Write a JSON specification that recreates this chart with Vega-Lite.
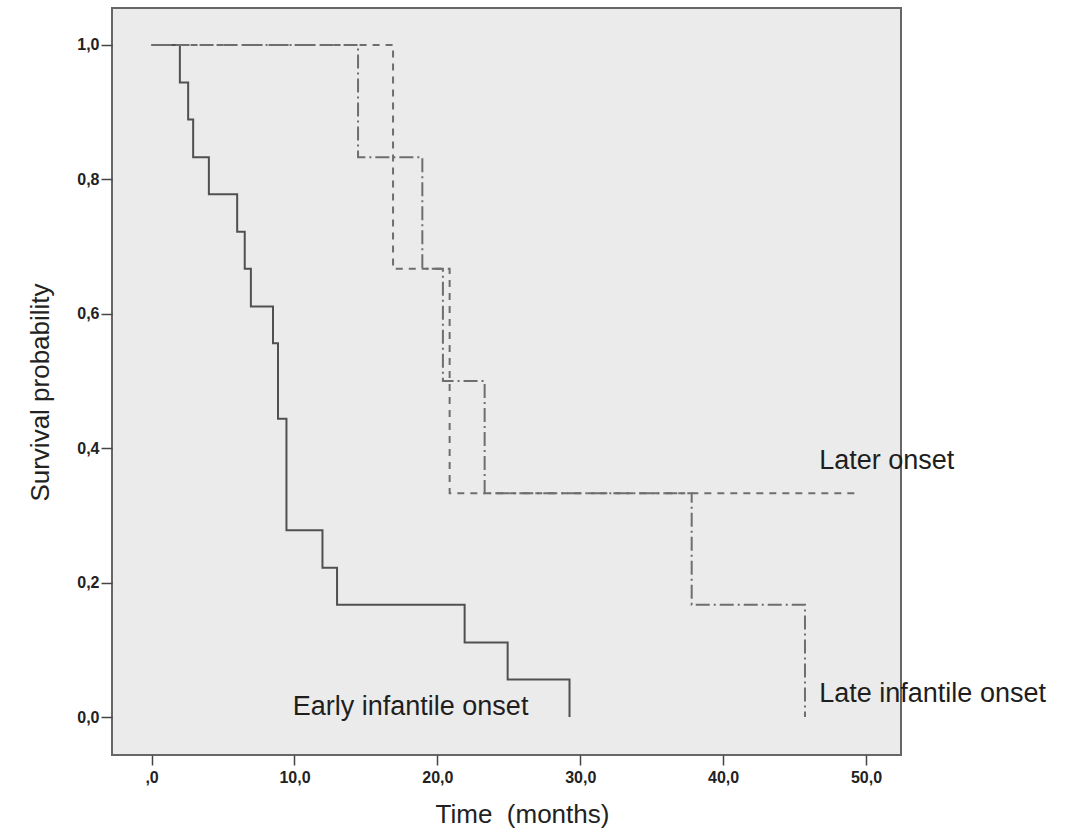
{
  "$schema": "https://vega.github.io/schema/vega-lite/v6.json",
  "autosize": {"type": "none"},
  "width": 789,
  "height": 747,
  "padding": {"left": 112, "top": 8, "right": 170, "bottom": 73},
  "background": "white",
  "config": {
    "view": {"fill": "#ebebeb", "stroke": "#666666", "strokeWidth": 2},
    "font": "Liberation Sans"
  },
  "datasets": {
    "curves": [
      {"group": "Early infantile onset", "t": 0, "s": 1.0},
      {"group": "Early infantile onset", "t": 1.98, "s": 0.944},
      {"group": "Early infantile onset", "t": 2.56, "s": 0.889},
      {"group": "Early infantile onset", "t": 2.91, "s": 0.833},
      {"group": "Early infantile onset", "t": 4.01, "s": 0.778},
      {"group": "Early infantile onset", "t": 5.99, "s": 0.722},
      {"group": "Early infantile onset", "t": 6.52, "s": 0.667},
      {"group": "Early infantile onset", "t": 6.95, "s": 0.611},
      {"group": "Early infantile onset", "t": 8.5, "s": 0.556},
      {"group": "Early infantile onset", "t": 8.85, "s": 0.444},
      {"group": "Early infantile onset", "t": 9.44, "s": 0.278},
      {"group": "Early infantile onset", "t": 11.96, "s": 0.222},
      {"group": "Early infantile onset", "t": 12.98, "s": 0.167},
      {"group": "Early infantile onset", "t": 21.91, "s": 0.111},
      {"group": "Early infantile onset", "t": 24.92, "s": 0.056},
      {"group": "Early infantile onset", "t": 29.25, "s": 0.0},
      {"group": "Later onset", "t": 0, "s": 1.0},
      {"group": "Later onset", "t": 16.9, "s": 0.667},
      {"group": "Later onset", "t": 20.86, "s": 0.333},
      {"group": "Later onset", "t": 49.53, "s": 0.333},
      {"group": "Late infantile onset", "t": 0, "s": 1.0},
      {"group": "Late infantile onset", "t": 14.45, "s": 0.833},
      {"group": "Late infantile onset", "t": 18.95, "s": 0.667},
      {"group": "Late infantile onset", "t": 20.39, "s": 0.5},
      {"group": "Late infantile onset", "t": 23.31, "s": 0.333},
      {"group": "Late infantile onset", "t": 37.8, "s": 0.167},
      {"group": "Late infantile onset", "t": 45.73, "s": 0.0}
    ],
    "labels": [
      {"label": "Later onset", "t": 46.73, "s": 0.369},
      {"label": "Late infantile onset", "t": 46.73, "s": 0.023},
      {"label": "Early infantile onset", "t": 9.88, "s": 0.003}
    ]
  },
  "layer": [
    {
      "data": {"name": "curves"},
      "mark": {"type": "line", "interpolate": "step-after", "strokeWidth": 2},
      "encoding": {
        "x": {
          "field": "t", "type": "quantitative",
          "scale": {"domain": [-2.77, 52.45], "nice": false, "zero": false},
          "axis": {
            "values": [0, 10, 20, 30, 40, 50],
            "labelExpr": "datum.value == 0 ? ',0' : replace(format(datum.value, '.1f'), '.', ',')",
            "domain": false, "grid": false,
            "tickSize": 10, "tickColor": "#444444", "tickWidth": 1.5,
            "labelFontSize": 16, "labelFontWeight": "bold", "labelColor": "#222222", "labelPadding": 4,
            "title": "Time \u00a0(months)", "titleFontSize": 26, "titleFontWeight": "normal", "titleColor": "#222222",
            "titleX": 410, "titleY": 67, "titleAlign": "center", "titleBaseline": "alphabetic"
          }
        },
        "y": {
          "field": "s", "type": "quantitative",
          "scale": {"domain": [-0.0565, 1.055], "nice": false, "zero": false},
          "axis": {
            "values": [0, 0.2, 0.4, 0.6, 0.8, 1.0],
            "labelExpr": "replace(format(datum.value, '.1f'), '.', ',')",
            "domain": false, "grid": false,
            "tickSize": 11, "tickColor": "#444444", "tickWidth": 1.5,
            "labelFontSize": 16, "labelFontWeight": "bold", "labelColor": "#222222", "labelPadding": 2,
            "title": "Survival probability", "titleFontSize": 26, "titleFontWeight": "normal", "titleColor": "#222222",
            "titleAngle": -90, "titleX": -72, "titleY": 384, "titleAlign": "center", "titleBaseline": "middle"
          }
        },
        "detail": {"field": "group"},
        "color": {
          "field": "group", "type": "nominal",
          "scale": {"domain": ["Early infantile onset", "Later onset", "Late infantile onset"], "range": ["#505050", "#6e6e6e", "#6e6e6e"]},
          "legend": null
        },
        "strokeDash": {
          "field": "group", "type": "nominal",
          "scale": {"domain": ["Early infantile onset", "Later onset", "Late infantile onset"], "range": [[1, 0], [7, 6], [14, 4, 2, 4]]},
          "legend": null
        }
      }
    },
    {
      "data": {"name": "labels"},
      "mark": {"type": "text", "align": "left", "baseline": "alphabetic", "fontSize": 27, "color": "#1e1e1e", "font": "Liberation Sans"},
      "encoding": {
        "x": {"field": "t", "type": "quantitative"},
        "y": {"field": "s", "type": "quantitative"},
        "text": {"field": "label"}
      }
    }
  ]
}
